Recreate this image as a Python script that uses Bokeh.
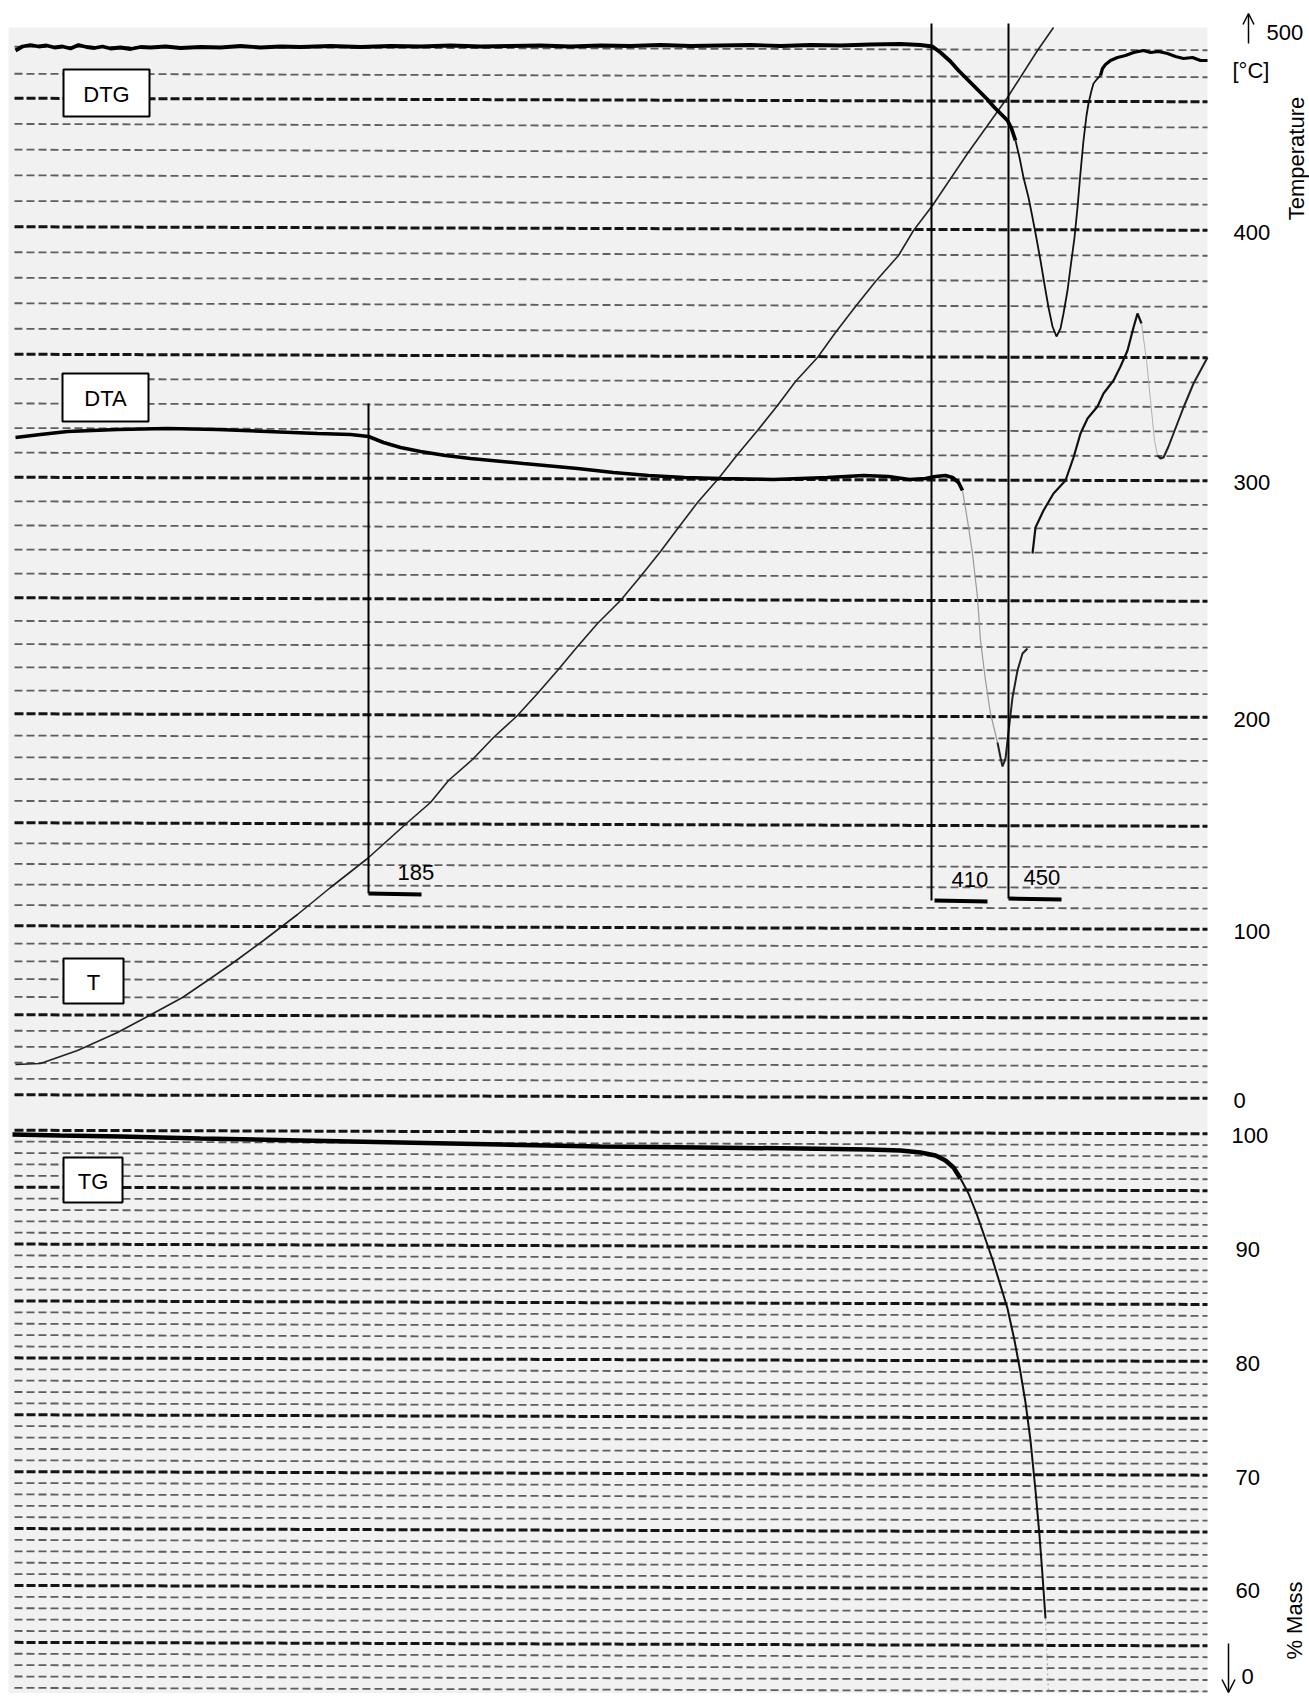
import numpy as np
from bokeh.plotting import figure
from bokeh.models import Range1d, Arrow, OpenHead
from bokeh.core.properties import value
from bokeh.embed import file_html
from bokeh.resources import INLINE

FONT = "Liberation Sans"

# ---------------- chart-paper calibration (temperature / mass scales) ----------------
temp_cal_deg = [0, 50, 100, 150, 200, 250, 300, 350, 400, 450, 460, 470]
temp_cal_px = [1096, 1016, 927, 824, 715, 599, 478.5, 355.5, 228, 99.5, 75, 48]
temp_ticks = [0, 100, 200, 300, 400]
mass_cal_pct = [50, 100]
mass_cal_px = [1700.5, 1131.5]
mass_ticks = [60, 70, 80, 90, 100]
grid_tilt = 1.75

# ---------------- traced recorder curves (x: time axis, y: chart paper) ----------------
dtg_x = [15, 22, 30, 38, 46, 54, 62, 70, 78, 86, 94, 102, 110, 120, 130, 140, 150, 165, 180, 200,
         220, 240, 260, 280, 300, 330, 360, 390, 420, 450, 480, 510, 540, 570, 600, 630, 660, 690,
         720, 750, 780, 810, 840, 870, 900, 920, 932, 940, 950, 958, 967, 974, 980, 987, 993, 1000,
         1007, 1011, 1015]
dtg_y = [50, 46, 44.5, 46, 45, 47, 46, 48, 44.5, 46.5, 47.5, 46, 48, 47, 48.5, 46.5, 47, 46, 47.5, 46.5,
         47, 45.5, 47, 46, 46.5, 45.5, 46.5, 45.5, 46, 45, 46, 45.5, 45, 46, 45, 45.5, 44.5, 45.5,
         45, 44.5, 45.5, 44.5, 45, 44, 43.5, 44.5, 46, 52, 61, 70, 79, 86, 92, 99, 106, 113,
         120, 128, 140]
dtg_peak_x = [1015, 1019, 1023, 1028, 1032, 1036, 1040, 1044, 1048, 1052, 1056, 1060, 1063, 1067,
              1070, 1074, 1077, 1080, 1083, 1086, 1088, 1091, 1093, 1097, 1100]
dtg_peak_y = [140, 157, 177, 197, 217, 238, 260, 284, 307, 326, 336, 328, 313, 290,
              267, 237, 207, 172, 140, 115, 103, 90, 83, 78, 75]
dtg_tail_x = [1100, 1102, 1105, 1110, 1117, 1125, 1133, 1143, 1150, 1158, 1167, 1175, 1183, 1192, 1200, 1207]
dtg_tail_y = [75, 68, 64, 60, 57, 55, 52, 50, 52, 51, 53, 56, 58, 57, 60, 60]

dta_x = [15, 40, 67, 117, 167, 217, 267, 317, 350, 368, 383, 400, 420, 445, 470, 523, 577, 613, 648,
         684, 720, 773, 827, 863, 888, 909, 925, 935, 945, 952, 958, 962]
dta_y = [437, 434, 431, 429, 428, 429, 431, 433, 434, 436, 442, 447, 451, 455, 458, 463, 468, 472, 475,
         477, 478, 479, 477, 475, 476, 479, 478, 476, 475, 477, 482, 490]
dta_fall_x = [962, 967, 972, 977, 980, 985, 990, 997]
dta_fall_y = [490, 520, 553, 597, 640, 680, 713, 742]
dta_min_x = [997, 1000, 1002, 1005, 1007, 1012, 1017, 1022, 1027]
dta_min_y = [742, 757, 766, 758, 740, 697, 670, 653, 648]
dta_rise_x = [1032, 1035, 1043, 1053, 1065, 1073, 1080, 1087, 1097, 1103, 1113, 1120, 1127, 1133, 1137, 1141]
dta_rise_y = [553, 527, 510, 493, 480, 457, 433, 418, 406, 393, 380, 366, 350, 327, 313, 323]
dta_drop_x = [1141, 1146, 1150, 1154, 1157]
dta_drop_y = [323, 360, 400, 440, 455]
dta_end_x = [1157, 1160, 1163, 1168, 1173, 1183, 1193, 1200, 1207]
dta_end_y = [455, 458, 457, 446, 433, 407, 383, 370, 357]

t_x = [15, 40, 77, 117, 147, 182, 207, 233, 263, 297, 330, 367, 407, 430, 448, 472, 493, 516, 537, 557,
       577, 597, 620, 640, 660, 678, 697, 718, 737, 757, 777, 795, 817, 835, 855, 875, 898, 913,
       932, 967, 1007, 1037, 1053]
t_y = [1064, 1063, 1050, 1032, 1016, 997, 980, 962, 940, 914, 887, 858, 822, 802, 780, 759, 737, 716, 693,
       670, 646, 623, 600, 576, 551, 527, 502, 478, 454, 430, 405, 381, 357, 332, 306, 281, 255, 230,
       205, 153, 97, 50, 27]

tg_x = [12, 60, 120, 200, 300, 400, 500, 600, 700, 800, 868, 900, 920, 935, 945, 953, 960]
tg_y = [1134, 1135, 1136, 1138, 1140, 1142, 1144, 1146, 1147, 1148, 1149, 1150, 1152, 1155, 1160, 1167, 1178]
tg_fall_x = [960, 968, 976, 984, 992, 1000, 1007, 1014, 1020, 1025, 1030, 1035, 1039, 1042, 1045]
tg_fall_y = [1178, 1193, 1213, 1236, 1259, 1285, 1308, 1340, 1372, 1402, 1440, 1490, 1535, 1575, 1618]

# event markers (onset temperatures)
marker_labels = ["185", "410", "450"]
marker_x = [368, 931, 1008]
marker_top = [403, 23, 23]
marker_bottom = [893, 900, 898]

curve_names = ["DTG", "DTA", "T", "TG"]

# ---------------- figure ----------------
W, H = 1309, 1693
p = figure(width=W, height=H, x_range=Range1d(0, W), y_range=Range1d(H, 0),
           output_backend="svg", toolbar_location=None, min_border=0)
p.axis.visible = False
p.grid.visible = False
p.outline_line_color = None
p.background_fill_color = "white"
p.border_fill_color = "white"

# paper
p.quad(left=[8], right=[1207], top=[27], bottom=[H], fill_color="#f1f1f1", line_color=None)

# grid lines
temps = np.arange(0, 471, 10)
ty = np.interp(temps, temp_cal_deg, temp_cal_px)
masses = np.arange(51, 101, 1)
my = np.interp(masses, mass_cal_pct, mass_cal_px)
all_y = np.concatenate([ty, my])
thick = np.concatenate([temps % 50 == 0, masses % 5 == 0])
x0, x1 = 14, 1207
for sel, col, w, dash in [(~thick, "#5e5e5e", 1.8, "8 4"), (thick, "#141414", 3.0, "9 3")]:
    yy = all_y[sel]
    p.segment(x0=[x0] * len(yy), y0=list(yy - grid_tilt), x1=[x1] * len(yy), y1=list(yy + grid_tilt),
              line_color=col, line_width=w, line_dash=dash)

# curves
p.line(t_x, t_y, line_color="#222222", line_width=1.6)
p.line(dtg_x, dtg_y, line_color="black", line_width=3.8)
p.line(dtg_peak_x, dtg_peak_y, line_color="#111111", line_width=1.8)
p.line(dtg_tail_x, dtg_tail_y, line_color="black", line_width=3.2)
p.line(dta_x, dta_y, line_color="black", line_width=3.6)
p.line(dta_fall_x, dta_fall_y, line_color="#9a9a9a", line_width=1.2)
p.line(dta_min_x, dta_min_y, line_color="#222222", line_width=2.0)
p.line(dta_rise_x, dta_rise_y, line_color="#111111", line_width=2.2)
p.line(dta_drop_x, dta_drop_y, line_color="#b0b0b0", line_width=1.0)
p.line(dta_end_x, dta_end_y, line_color="#222222", line_width=2.0)
p.line(tg_x, tg_y, line_color="black", line_width=4.5)
p.line(tg_fall_x, tg_fall_y, line_color="#111111", line_width=2.0)
p.line([tg_fall_x[-1], tg_fall_x[-1] + 3], [tg_fall_y[-1], H], line_color="#a0a0a0",
       line_width=1.0, line_dash="2 3")

# event markers
p.segment(x0=marker_x, y0=marker_top, x1=marker_x, y1=marker_bottom, line_color="black", line_width=2)
bar_x0 = [mx + d for mx, d in zip(marker_x, [0, 3, 0])]
p.segment(x0=bar_x0, y0=marker_bottom, x1=[b + 53 for b in bar_x0], y1=[mb + 1 for mb in marker_bottom],
          line_color="black", line_width=4)
p.text(x=[mx + off for mx, off in zip(marker_x, [29, 20, 15])],
       y=[mb - 21 for mb in marker_bottom], text=marker_labels,
       text_font=value(FONT), text_font_size="22px", text_align="left", text_baseline="middle",
       text_color="black")

# curve name boxes
box_l = [63, 62, 63, 63]
box_r = [149, 148, 123, 122]
box_t = [69, 373, 958, 1157]
box_b = [116, 421, 1003, 1202]
p.quad(left=box_l, right=box_r, top=box_t, bottom=box_b, fill_color="white", line_color="black",
       line_width=2)
p.text(x=[(a + b) / 2 for a, b in zip(box_l, box_r)], y=[(a + b) / 2 + 1 for a, b in zip(box_t, box_b)],
       text=curve_names, text_font=value(FONT), text_font_size="22px", text_align="center",
       text_baseline="middle", text_color="black")

# right-hand scales
ty_ticks = np.interp(temp_ticks, temp_cal_deg, temp_cal_px) + grid_tilt
my_ticks = np.interp(mass_ticks, mass_cal_pct, mass_cal_px) + grid_tilt + 2
p.text(x=[1233] * len(temp_ticks), y=list(ty_ticks + 2), text=[str(v) for v in temp_ticks],
       text_font=value(FONT), text_font_size="22px", text_align="left", text_baseline="middle")
p.text(x=[1231] + [1235] * (len(mass_ticks) - 1), y=list(my_ticks[::-1]),
       text=[str(v) for v in mass_ticks[::-1]],
       text_font=value(FONT), text_font_size="22px", text_align="left", text_baseline="middle")
p.text(x=[1266, 1232, 1241], y=[32, 70, 1676], text=["500", "[°C]", "0"],
       text_font=value(FONT), text_font_size="22px", text_align="left", text_baseline="middle")
p.text(x=[1296, 1294], y=[158, 1620], text=["Temperature", "% Mass"], angle=np.pi / 2,
       text_font=value(FONT), text_font_size="22px", text_align="center", text_baseline="middle")
p.add_layout(Arrow(end=OpenHead(size=11, line_width=1.5, line_color="black"),
                   x_start=1248, y_start=43, x_end=1248, y_end=13, line_width=1.5, line_color="black"))
p.add_layout(Arrow(end=OpenHead(size=13, line_width=1.5, line_color="black"),
                   x_start=1228, y_start=1643, x_end=1228, y_end=1692, line_width=1.5, line_color="black"))

open("out.html", "w").write(file_html(p, INLINE))
